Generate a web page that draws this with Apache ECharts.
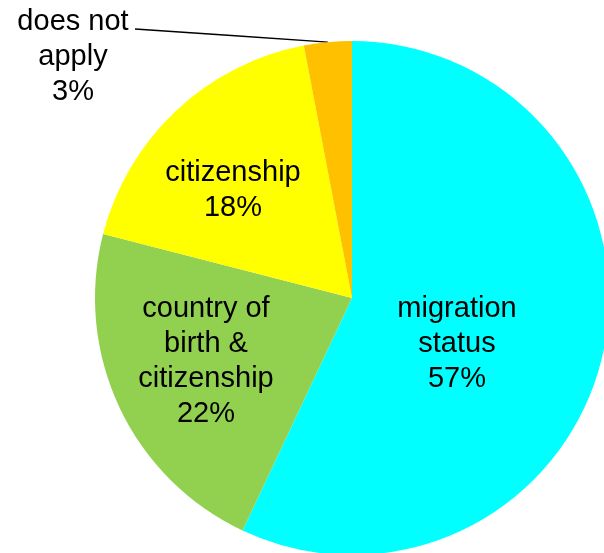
<!DOCTYPE html>
<html>
<head>
<meta charset="utf-8">
<script src="https://cdn.jsdelivr.net/npm/echarts@6/dist/echarts.min.js"></script>
<style>
  html, body { margin: 0; padding: 0; background: #ffffff; }
  #chart { width: 604px; height: 553px; }
</style>
</head>
<body>
<div id="chart"></div>
<script>
// Share of each classification basis (percent), clockwise from 12 o'clock
const categories = ['migration\nstatus', 'country of\nbirth &\ncitizenship', 'citizenship', 'does not\napply'];
const shares = [57, 22, 18, 3];
const sliceColors = ['#00FFFF', '#92D050', '#FFFF00', '#FFC000'];

// Label box centres for each slice
const labelSpots = [[457, 344], [206, 361], [233, 190], [73, 57]];
// Where the leader line of the outside label meets its first text line
const leaderEnd = [135, 29];

const chart = echarts.init(document.getElementById('chart'), null, { renderer: 'canvas' });

chart.setOption({
  animation: false,
  backgroundColor: '#ffffff',
  series: [{
    type: 'pie',
    center: [352, 298],
    radius: 257,
    startAngle: 90,
    clockwise: true,
    avoidLabelOverlap: false,
    itemStyle: { borderWidth: 0 },
    label: {
      show: true,
      position: 'outside',
      formatter: p => p.name + '\n' + p.value + '%',
      fontFamily: 'Liberation Sans, Arial, sans-serif',
      fontSize: 29,
      lineHeight: 35,
      color: '#000000',
      align: 'center'
    },
    labelLine: {
      show: true,
      length: 10,
      length2: 10,
      smooth: false,
      lineStyle: { color: '#000000', width: 1.4 }
    },
    labelLayout: function (params) {
      const s = labelSpots[params.dataIndex];
      const out = { x: s[0], y: s[1], align: 'center', verticalAlign: 'middle' };
      const pts = params.labelLinePoints;
      if (params.dataIndex === 3 && pts) {
        const start = pts[0];
        out.labelLinePoints = [
          start,
          [(start[0] + leaderEnd[0]) / 2, (start[1] + leaderEnd[1]) / 2],
          leaderEnd
        ];
      }
      return out;
    },
    data: categories.map((name, i) => ({
      name: name,
      value: shares[i],
      itemStyle: { color: sliceColors[i] },
      labelLine: { show: i === 3 }
    }))
  }]
});
</script>
</body>
</html>
